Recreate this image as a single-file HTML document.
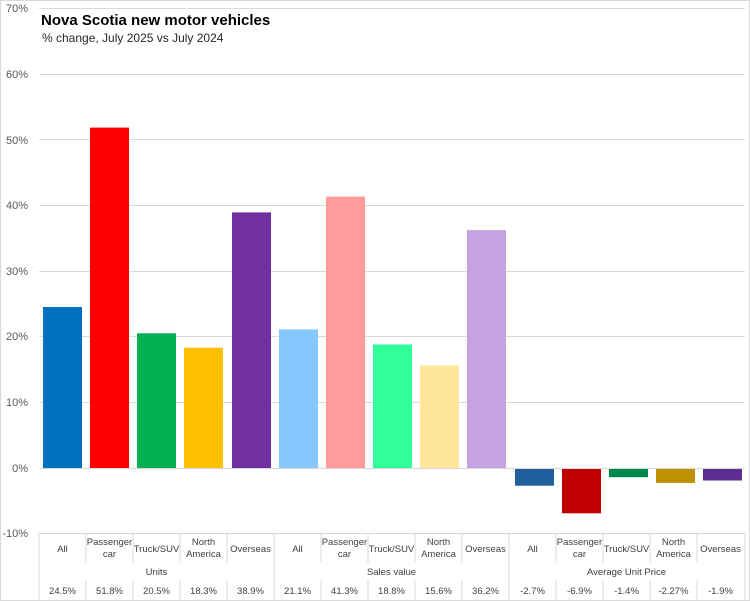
<!DOCTYPE html>
<html><head><meta charset="utf-8"><style>
body{margin:0;background:#fff}
svg{display:block;font-family:"Liberation Sans",sans-serif}
</style></head><body>
<svg width="750" height="601" xmlns="http://www.w3.org/2000/svg">
<rect x="0.5" y="0.5" width="749" height="600" fill="#fff" stroke="#d9d9d9"/>
<g stroke="#d9d9d9" stroke-width="1">
<line x1="39" x2="745" y1="8.5" y2="8.5"/>
<line x1="39" x2="745" y1="74.5" y2="74.5"/>
<line x1="39" x2="745" y1="139.5" y2="139.5"/>
<line x1="39" x2="745" y1="205.5" y2="205.5"/>
<line x1="39" x2="745" y1="271.5" y2="271.5"/>
<line x1="39" x2="745" y1="336.5" y2="336.5"/>
<line x1="39" x2="745" y1="402.5" y2="402.5"/>
<line x1="39" x2="745" y1="533.5" y2="533.5"/>
</g>
<g font-size="11" fill="#595959" text-anchor="end">
<text x="28" y="12">70%</text><text x="28" y="78">60%</text><text x="28" y="144">50%</text>
<text x="28" y="209">40%</text><text x="28" y="275">30%</text><text x="28" y="340">20%</text>
<text x="28" y="406">10%</text><text x="28" y="472">0%</text><text x="28" y="537">-10%</text>
</g>
<g>
<rect x="43" y="307.0" width="39" height="161.0" fill="#0070C0"/>
<rect x="90" y="127.6" width="39" height="340.4" fill="#FF0000"/>
<rect x="137" y="333.3" width="39" height="134.7" fill="#00B050"/>
<rect x="184" y="347.7" width="39" height="120.3" fill="#FFC000"/>
<rect x="232" y="212.4" width="39" height="255.6" fill="#7030A0"/>
<rect x="279" y="329.4" width="39" height="138.6" fill="#85C8FF"/>
<rect x="326" y="196.6" width="39" height="271.4" fill="#FF9B9B"/>
<rect x="373" y="344.5" width="39" height="123.5" fill="#33FF99"/>
<rect x="420" y="365.5" width="39" height="102.5" fill="#FFE699"/>
<rect x="467" y="230.1" width="39" height="237.9" fill="#C6A2E2"/>
<rect x="515" y="468" width="39" height="17.7" fill="#1F5F9B"/>
<rect x="562" y="468" width="39" height="45.3" fill="#C00000"/>
<rect x="609" y="468" width="39" height="9.2" fill="#00884A"/>
<rect x="656" y="468" width="39" height="14.9" fill="#BF9000"/>
<rect x="703" y="468" width="39" height="12.5" fill="#5E2D91"/>
</g>
<line x1="39" x2="745" y1="468.5" y2="468.5" stroke="#d9d9d9"/>
<g stroke="#d9d9d9">
<line x1="39" x2="39" y1="533" y2="600"/>
<line x1="274" x2="274" y1="533" y2="600"/>
<line x1="509" x2="509" y1="533" y2="600"/>
<line x1="745" x2="745" y1="533" y2="600"/>
<line x1="86" x2="86" y1="533" y2="563"/><line x1="133" x2="133" y1="533" y2="563"/>
<line x1="180" x2="180" y1="533" y2="563"/><line x1="227" x2="227" y1="533" y2="563"/>
<line x1="321" x2="321" y1="533" y2="563"/><line x1="368" x2="368" y1="533" y2="563"/>
<line x1="415" x2="415" y1="533" y2="563"/><line x1="462" x2="462" y1="533" y2="563"/>
<line x1="556" x2="556" y1="533" y2="563"/><line x1="603" x2="603" y1="533" y2="563"/>
<line x1="650" x2="650" y1="533" y2="563"/><line x1="697" x2="697" y1="533" y2="563"/>
<line x1="86" x2="86" y1="580" y2="600"/><line x1="133" x2="133" y1="580" y2="600"/>
<line x1="180" x2="180" y1="580" y2="600"/><line x1="227" x2="227" y1="580" y2="600"/>
<line x1="321" x2="321" y1="580" y2="600"/><line x1="368" x2="368" y1="580" y2="600"/>
<line x1="415" x2="415" y1="580" y2="600"/><line x1="462" x2="462" y1="580" y2="600"/>
<line x1="556" x2="556" y1="580" y2="600"/><line x1="603" x2="603" y1="580" y2="600"/>
<line x1="650" x2="650" y1="580" y2="600"/><line x1="697" x2="697" y1="580" y2="600"/>
</g>
<g font-size="9.5" fill="#404040" text-anchor="middle">
<text x="62.5" y="552">All</text>
<text x="109.5" y="545">Passenger</text><text x="109.5" y="557">car</text>
<text x="156.5" y="552">Truck/SUV</text>
<text x="203.5" y="545">North</text><text x="203.5" y="557">America</text>
<text x="250.5" y="552">Overseas</text>
<text x="297.5" y="552">All</text>
<text x="344.5" y="545">Passenger</text><text x="344.5" y="557">car</text>
<text x="391.5" y="552">Truck/SUV</text>
<text x="438.5" y="545">North</text><text x="438.5" y="557">America</text>
<text x="485.5" y="552">Overseas</text>
<text x="532.5" y="552">All</text>
<text x="579.5" y="545">Passenger</text><text x="579.5" y="557">car</text>
<text x="626.5" y="552">Truck/SUV</text>
<text x="673.5" y="545">North</text><text x="673.5" y="557">America</text>
<text x="720.5" y="552">Overseas</text>
<text x="156.5" y="575">Units</text>
<text x="391.5" y="575">Sales value</text>
<text x="626.5" y="575">Average Unit Price</text>
<text x="62.5" y="594">24.5%</text><text x="109.5" y="594">51.8%</text><text x="156.5" y="594">20.5%</text>
<text x="203.5" y="594">18.3%</text><text x="250.5" y="594">38.9%</text><text x="297.5" y="594">21.1%</text>
<text x="344.5" y="594">41.3%</text><text x="391.5" y="594">18.8%</text><text x="438.5" y="594">15.6%</text>
<text x="485.5" y="594">36.2%</text><text x="532.5" y="594">-2.7%</text><text x="579.5" y="594">-6.9%</text>
<text x="626.5" y="594">-1.4%</text><text x="673.5" y="594">-2.27%</text><text x="720.5" y="594">-1.9%</text>
</g>
<text x="41" y="25" font-size="15" font-weight="bold" fill="#000">Nova Scotia new motor vehicles</text>
<text x="42" y="42" font-size="12" fill="#262626">% change, July 2025 vs July 2024</text>
</svg>
</body></html>
